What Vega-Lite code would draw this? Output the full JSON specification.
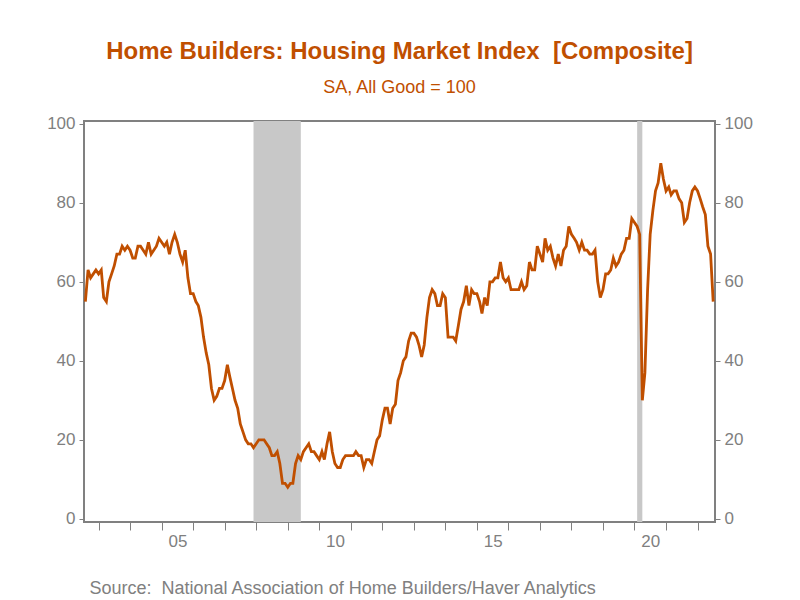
{
  "$schema": "https://vega.github.io/schema/vega-lite/v6.json",
  "width": 631,
  "height": 401,
  "autosize": "none",
  "padding": {"left": 84, "top": 121, "right": 85, "bottom": 78},
  "background": "white",
  "config": {
    "font": "Liberation Sans",
    "view": {"stroke": "#808080", "strokeWidth": 2}
  },
  "title": {
    "text": "Home Builders: Housing Market Index \u00a0[Composite]",
    "subtitle": "SA, All Good = 100",
    "anchor": "middle",
    "font": "Liberation Sans",
    "fontSize": 24,
    "fontWeight": "bold",
    "color": "#C04F00",
    "subtitleFont": "Liberation Sans",
    "subtitleFontSize": 18,
    "subtitleColor": "#C04F00",
    "subtitlePadding": 15.5,
    "offset": 17.5
  },
  "datasets": {
    "hmi": [
      {"d":"2002-08-01","v":55},{"d":"2002-09-01","v":63},{"d":"2002-10-01","v":61},{"d":"2002-11-01","v":62},{"d":"2002-12-01","v":63},
      {"d":"2003-01-01","v":62},{"d":"2003-02-01","v":63},{"d":"2003-03-01","v":56},{"d":"2003-04-01","v":55},{"d":"2003-05-01","v":60},{"d":"2003-06-01","v":62},{"d":"2003-07-01","v":64},{"d":"2003-08-01","v":67},{"d":"2003-09-01","v":67},{"d":"2003-10-01","v":69},{"d":"2003-11-01","v":68},{"d":"2003-12-01","v":69},
      {"d":"2004-01-01","v":68},{"d":"2004-02-01","v":66},{"d":"2004-03-01","v":66},{"d":"2004-04-01","v":69},{"d":"2004-05-01","v":69},{"d":"2004-06-01","v":68},{"d":"2004-07-01","v":67},{"d":"2004-08-01","v":70},{"d":"2004-09-01","v":67},{"d":"2004-10-01","v":68},{"d":"2004-11-01","v":69},{"d":"2004-12-01","v":71},
      {"d":"2005-01-01","v":70},{"d":"2005-02-01","v":69},{"d":"2005-03-01","v":70},{"d":"2005-04-01","v":67},{"d":"2005-05-01","v":70},{"d":"2005-06-01","v":72},{"d":"2005-07-01","v":70},{"d":"2005-08-01","v":67},{"d":"2005-09-01","v":65},{"d":"2005-10-01","v":68},{"d":"2005-11-01","v":61},{"d":"2005-12-01","v":57},
      {"d":"2006-01-01","v":57},{"d":"2006-02-01","v":55},{"d":"2006-03-01","v":54},{"d":"2006-04-01","v":51},{"d":"2006-05-01","v":46},{"d":"2006-06-01","v":42},{"d":"2006-07-01","v":39},{"d":"2006-08-01","v":33},{"d":"2006-09-01","v":30},{"d":"2006-10-01","v":31},{"d":"2006-11-01","v":33},{"d":"2006-12-01","v":33},
      {"d":"2007-01-01","v":35},{"d":"2007-02-01","v":39},{"d":"2007-03-01","v":36},{"d":"2007-04-01","v":33},{"d":"2007-05-01","v":30},{"d":"2007-06-01","v":28},{"d":"2007-07-01","v":24},{"d":"2007-08-01","v":22},{"d":"2007-09-01","v":20},{"d":"2007-10-01","v":19},{"d":"2007-11-01","v":19},{"d":"2007-12-01","v":18},
      {"d":"2008-01-01","v":19},{"d":"2008-02-01","v":20},{"d":"2008-03-01","v":20},{"d":"2008-04-01","v":20},{"d":"2008-05-01","v":19},{"d":"2008-06-01","v":18},{"d":"2008-07-01","v":16},{"d":"2008-08-01","v":16},{"d":"2008-09-01","v":17},{"d":"2008-10-01","v":14},{"d":"2008-11-01","v":9},{"d":"2008-12-01","v":9},
      {"d":"2009-01-01","v":8},{"d":"2009-02-01","v":9},{"d":"2009-03-01","v":9},{"d":"2009-04-01","v":14},{"d":"2009-05-01","v":16},{"d":"2009-06-01","v":15},{"d":"2009-07-01","v":17},{"d":"2009-08-01","v":18},{"d":"2009-09-01","v":19},{"d":"2009-10-01","v":17},{"d":"2009-11-01","v":17},{"d":"2009-12-01","v":16},
      {"d":"2010-01-01","v":15},{"d":"2010-02-01","v":17},{"d":"2010-03-01","v":15},{"d":"2010-04-01","v":19},{"d":"2010-05-01","v":22},{"d":"2010-06-01","v":17},{"d":"2010-07-01","v":14},{"d":"2010-08-01","v":13},{"d":"2010-09-01","v":13},{"d":"2010-10-01","v":15},{"d":"2010-11-01","v":16},{"d":"2010-12-01","v":16},
      {"d":"2011-01-01","v":16},{"d":"2011-02-01","v":16},{"d":"2011-03-01","v":17},{"d":"2011-04-01","v":16},{"d":"2011-05-01","v":16},{"d":"2011-06-01","v":13},{"d":"2011-07-01","v":15},{"d":"2011-08-01","v":15},{"d":"2011-09-01","v":14},{"d":"2011-10-01","v":17},{"d":"2011-11-01","v":20},{"d":"2011-12-01","v":21},
      {"d":"2012-01-01","v":25},{"d":"2012-02-01","v":28},{"d":"2012-03-01","v":28},{"d":"2012-04-01","v":24},{"d":"2012-05-01","v":28},{"d":"2012-06-01","v":29},{"d":"2012-07-01","v":35},{"d":"2012-08-01","v":37},{"d":"2012-09-01","v":40},{"d":"2012-10-01","v":41},{"d":"2012-11-01","v":45},{"d":"2012-12-01","v":47},
      {"d":"2013-01-01","v":47},{"d":"2013-02-01","v":46},{"d":"2013-03-01","v":44},{"d":"2013-04-01","v":41},{"d":"2013-05-01","v":44},{"d":"2013-06-01","v":51},{"d":"2013-07-01","v":56},{"d":"2013-08-01","v":58},{"d":"2013-09-01","v":57},{"d":"2013-10-01","v":54},{"d":"2013-11-01","v":54},{"d":"2013-12-01","v":57},
      {"d":"2014-01-01","v":56},{"d":"2014-02-01","v":46},{"d":"2014-03-01","v":46},{"d":"2014-04-01","v":46},{"d":"2014-05-01","v":45},{"d":"2014-06-01","v":49},{"d":"2014-07-01","v":53},{"d":"2014-08-01","v":55},{"d":"2014-09-01","v":59},{"d":"2014-10-01","v":54},{"d":"2014-11-01","v":58},{"d":"2014-12-01","v":57},
      {"d":"2015-01-01","v":57},{"d":"2015-02-01","v":55},{"d":"2015-03-01","v":52},{"d":"2015-04-01","v":56},{"d":"2015-05-01","v":54},{"d":"2015-06-01","v":60},{"d":"2015-07-01","v":60},{"d":"2015-08-01","v":61},{"d":"2015-09-01","v":61},{"d":"2015-10-01","v":65},{"d":"2015-11-01","v":61},{"d":"2015-12-01","v":60},
      {"d":"2016-01-01","v":61},{"d":"2016-02-01","v":58},{"d":"2016-03-01","v":58},{"d":"2016-04-01","v":58},{"d":"2016-05-01","v":58},{"d":"2016-06-01","v":60},{"d":"2016-07-01","v":58},{"d":"2016-08-01","v":59},{"d":"2016-09-01","v":65},{"d":"2016-10-01","v":63},{"d":"2016-11-01","v":63},{"d":"2016-12-01","v":69},
      {"d":"2017-01-01","v":67},{"d":"2017-02-01","v":65},{"d":"2017-03-01","v":71},{"d":"2017-04-01","v":68},{"d":"2017-05-01","v":69},{"d":"2017-06-01","v":66},{"d":"2017-07-01","v":64},{"d":"2017-08-01","v":67},{"d":"2017-09-01","v":64},{"d":"2017-10-01","v":68},{"d":"2017-11-01","v":69},{"d":"2017-12-01","v":74},
      {"d":"2018-01-01","v":72},{"d":"2018-02-01","v":71},{"d":"2018-03-01","v":70},{"d":"2018-04-01","v":68},{"d":"2018-05-01","v":70},{"d":"2018-06-01","v":68},{"d":"2018-07-01","v":68},{"d":"2018-08-01","v":67},{"d":"2018-09-01","v":67},{"d":"2018-10-01","v":68},{"d":"2018-11-01","v":60},{"d":"2018-12-01","v":56},
      {"d":"2019-01-01","v":58},{"d":"2019-02-01","v":62},{"d":"2019-03-01","v":62},{"d":"2019-04-01","v":63},{"d":"2019-05-01","v":66},{"d":"2019-06-01","v":64},{"d":"2019-07-01","v":65},{"d":"2019-08-01","v":67},{"d":"2019-09-01","v":68},{"d":"2019-10-01","v":71},{"d":"2019-11-01","v":71},{"d":"2019-12-01","v":76},
      {"d":"2020-01-01","v":75},{"d":"2020-02-01","v":74},{"d":"2020-03-01","v":72},{"d":"2020-04-01","v":30},{"d":"2020-05-01","v":37},{"d":"2020-06-01","v":58},{"d":"2020-07-01","v":72},{"d":"2020-08-01","v":78},{"d":"2020-09-01","v":83},{"d":"2020-10-01","v":85},{"d":"2020-11-01","v":90},{"d":"2020-12-01","v":86},
      {"d":"2021-01-01","v":83},{"d":"2021-02-01","v":84},{"d":"2021-03-01","v":82},{"d":"2021-04-01","v":83},{"d":"2021-05-01","v":83},{"d":"2021-06-01","v":81},{"d":"2021-07-01","v":80},{"d":"2021-08-01","v":75},{"d":"2021-09-01","v":76},{"d":"2021-10-01","v":80},{"d":"2021-11-01","v":83},{"d":"2021-12-01","v":84},
      {"d":"2022-01-01","v":83},{"d":"2022-02-01","v":81},{"d":"2022-03-01","v":79},{"d":"2022-04-01","v":77},{"d":"2022-05-01","v":69},{"d":"2022-06-01","v":67},{"d":"2022-07-01","v":55}
    ],
    "rec": [
      {"d":"2007-12-01","d2":"2009-06-01"},
      {"d":"2020-02-01","d2":"2020-04-01"}
    ]
  },
  "encoding": {
    "x": {
      "field": "d",
      "type": "temporal",
      "scale": {"domain": ["2002-07-16", "2022-07-22"], "nice": false},
      "axis": {
        "orient": "bottom",
        "tickCount": {"interval": "year", "step": 1},
        "labelExpr": "year(datum.value) % 5 == 0 ? timeFormat(datum.value, '%y') : ''",
        "labelOffset": 15.75,
        "labelOverlap": false,
        "labelFlush": false,
        "labelFontSize": 17,
        "labelColor": "#7f7f7f",
        "labelPadding": 3,
        "tickSize": 8,
        "tickColor": "#808080",
        "tickWidth": 1,
        "domain": false,
        "grid": false,
        "title": "Source: \u00a0National Association of Home Builders/Haver Analytics",
        "titleFontSize": 18,
        "titleFontWeight": "normal",
        "titleColor": "#808080",
        "titleAnchor": "start",
        "titleAlign": "left",
        "titleBaseline": "alphabetic",
        "titleX": 5,
        "titleY": 71
      }
    }
  },
  "layer": [
    {
      "data": {"name": "rec"},
      "mark": {"type": "rect", "color": "#C8C8C8"},
      "encoding": {"x2": {"field": "d2"}}
    },
    {
      "data": {"name": "hmi"},
      "mark": {"type": "line", "color": "#C04F00", "strokeWidth": 2.8},
      "encoding": {
        "y": {
          "field": "v",
          "type": "quantitative",
          "scale": {"domain": [-0.8, 100.7], "nice": false, "zero": false},
          "axis": {
            "orient": "left",
            "values": [0, 20, 40, 60, 80, 100],
            "domain": false,
            "grid": false,
            "tickSize": 5,
            "tickColor": "#808080",
            "labelFontSize": 17,
            "labelColor": "#7f7f7f",
            "labelPadding": 4,
            "title": null
          }
        }
      }
    },
    {
      "data": {"name": "hmi"},
      "mark": {"type": "line", "color": "#C04F00", "strokeWidth": 2.8, "opacity": 0},
      "encoding": {
        "y": {
          "field": "v",
          "type": "quantitative",
          "scale": {"domain": [-0.8, 100.7], "nice": false, "zero": false},
          "axis": {
            "orient": "right",
            "values": [0, 20, 40, 60, 80, 100],
            "domain": false,
            "grid": false,
            "tickSize": 5,
            "tickColor": "#808080",
            "labelFontSize": 17,
            "labelColor": "#7f7f7f",
            "labelPadding": 4,
            "title": null
          }
        }
      }
    }
  ],
  "resolve": {"axis": {"y": "independent"}}
}
